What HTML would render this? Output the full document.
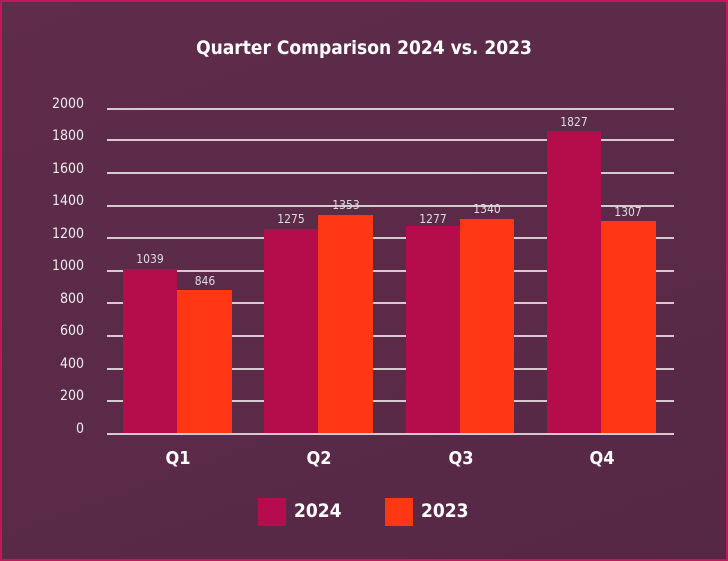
<!DOCTYPE html>
<html><head><style>
body{margin:0;width:728px;height:561px;overflow:hidden}
.c{position:absolute;left:0;top:0;width:724px;height:557px;border:2px solid #c0185a;background:linear-gradient(160deg,#5f2c4b,#5a2a48 60%,#552845);font-family:"DejaVu Sans Condensed","Liberation Sans",sans-serif;color:#fff}
.t{position:absolute;top:35px;left:0;width:724px;text-align:center;font-size:19px;font-weight:bold}
.g{position:absolute;left:105px;width:567px;height:2px;background:#d8c8d0}
.yl{position:absolute;right:642px;font-size:14px;color:#eee;text-align:right}
.b{position:absolute}
.v{position:absolute;font-size:12px;color:#ddd;width:60px;text-align:center}
.q{position:absolute;top:446px;font-size:18px;font-weight:bold;width:60px;text-align:center}
.lg{position:absolute;top:496px;width:28px;height:28px}
.lt{position:absolute;top:498px;font-size:19px;font-weight:bold}
</style></head><body><div class="c">
<div class="t">Quarter Comparison 2024 vs. 2023</div>
<div class="g" style="top:106px"></div><div class="yl" style="top:94px">2000</div>
<div class="g" style="top:137px"></div><div class="yl" style="top:126px">1800</div>
<div class="g" style="top:170px"></div><div class="yl" style="top:159px">1600</div>
<div class="g" style="top:203px"></div><div class="yl" style="top:191px">1400</div>
<div class="g" style="top:235px"></div><div class="yl" style="top:224px">1200</div>
<div class="g" style="top:268px"></div><div class="yl" style="top:256px">1000</div>
<div class="g" style="top:300px"></div><div class="yl" style="top:289px">800</div>
<div class="g" style="top:333px"></div><div class="yl" style="top:321px">600</div>
<div class="g" style="top:366px"></div><div class="yl" style="top:354px">400</div>
<div class="g" style="top:398px"></div><div class="yl" style="top:386px">200</div>
<div class="g" style="top:431px"></div><div class="yl" style="top:419px">0</div>

<div class="b" style="left:121px;top:267px;width:54px;height:164px;background:#b50d4c"></div>
<div class="b" style="left:175px;top:288px;width:55px;height:143px;background:#ff3714"></div>
<div class="b" style="left:262px;top:227px;width:54px;height:204px;background:#b50d4c"></div>
<div class="b" style="left:316px;top:213px;width:55px;height:218px;background:#ff3714"></div>
<div class="b" style="left:404px;top:224px;width:54px;height:207px;background:#b50d4c"></div>
<div class="b" style="left:458px;top:217px;width:54px;height:214px;background:#ff3714"></div>
<div class="b" style="left:545px;top:129px;width:54px;height:302px;background:#b50d4c"></div>
<div class="b" style="left:599px;top:219px;width:55px;height:212px;background:#ff3714"></div>

<div class="v" style="left:118px;top:250px">1039</div>
<div class="v" style="left:173px;top:272px">846</div>
<div class="v" style="left:259px;top:210px">1275</div>
<div class="v" style="left:314px;top:196px">1353</div>
<div class="v" style="left:401px;top:210px">1277</div>
<div class="v" style="left:455px;top:200px">1340</div>
<div class="v" style="left:542px;top:113px">1827</div>
<div class="v" style="left:596px;top:203px">1307</div>

<div class="q" style="left:146px">Q1</div>
<div class="q" style="left:287px">Q2</div>
<div class="q" style="left:429px">Q3</div>
<div class="q" style="left:570px">Q4</div>

<div class="lg" style="left:256px;background:#b50d4c"></div><div class="lt" style="left:292px">2024</div>
<div class="lg" style="left:383px;background:#ff3714"></div><div class="lt" style="left:419px">2023</div>
</div></body></html>
